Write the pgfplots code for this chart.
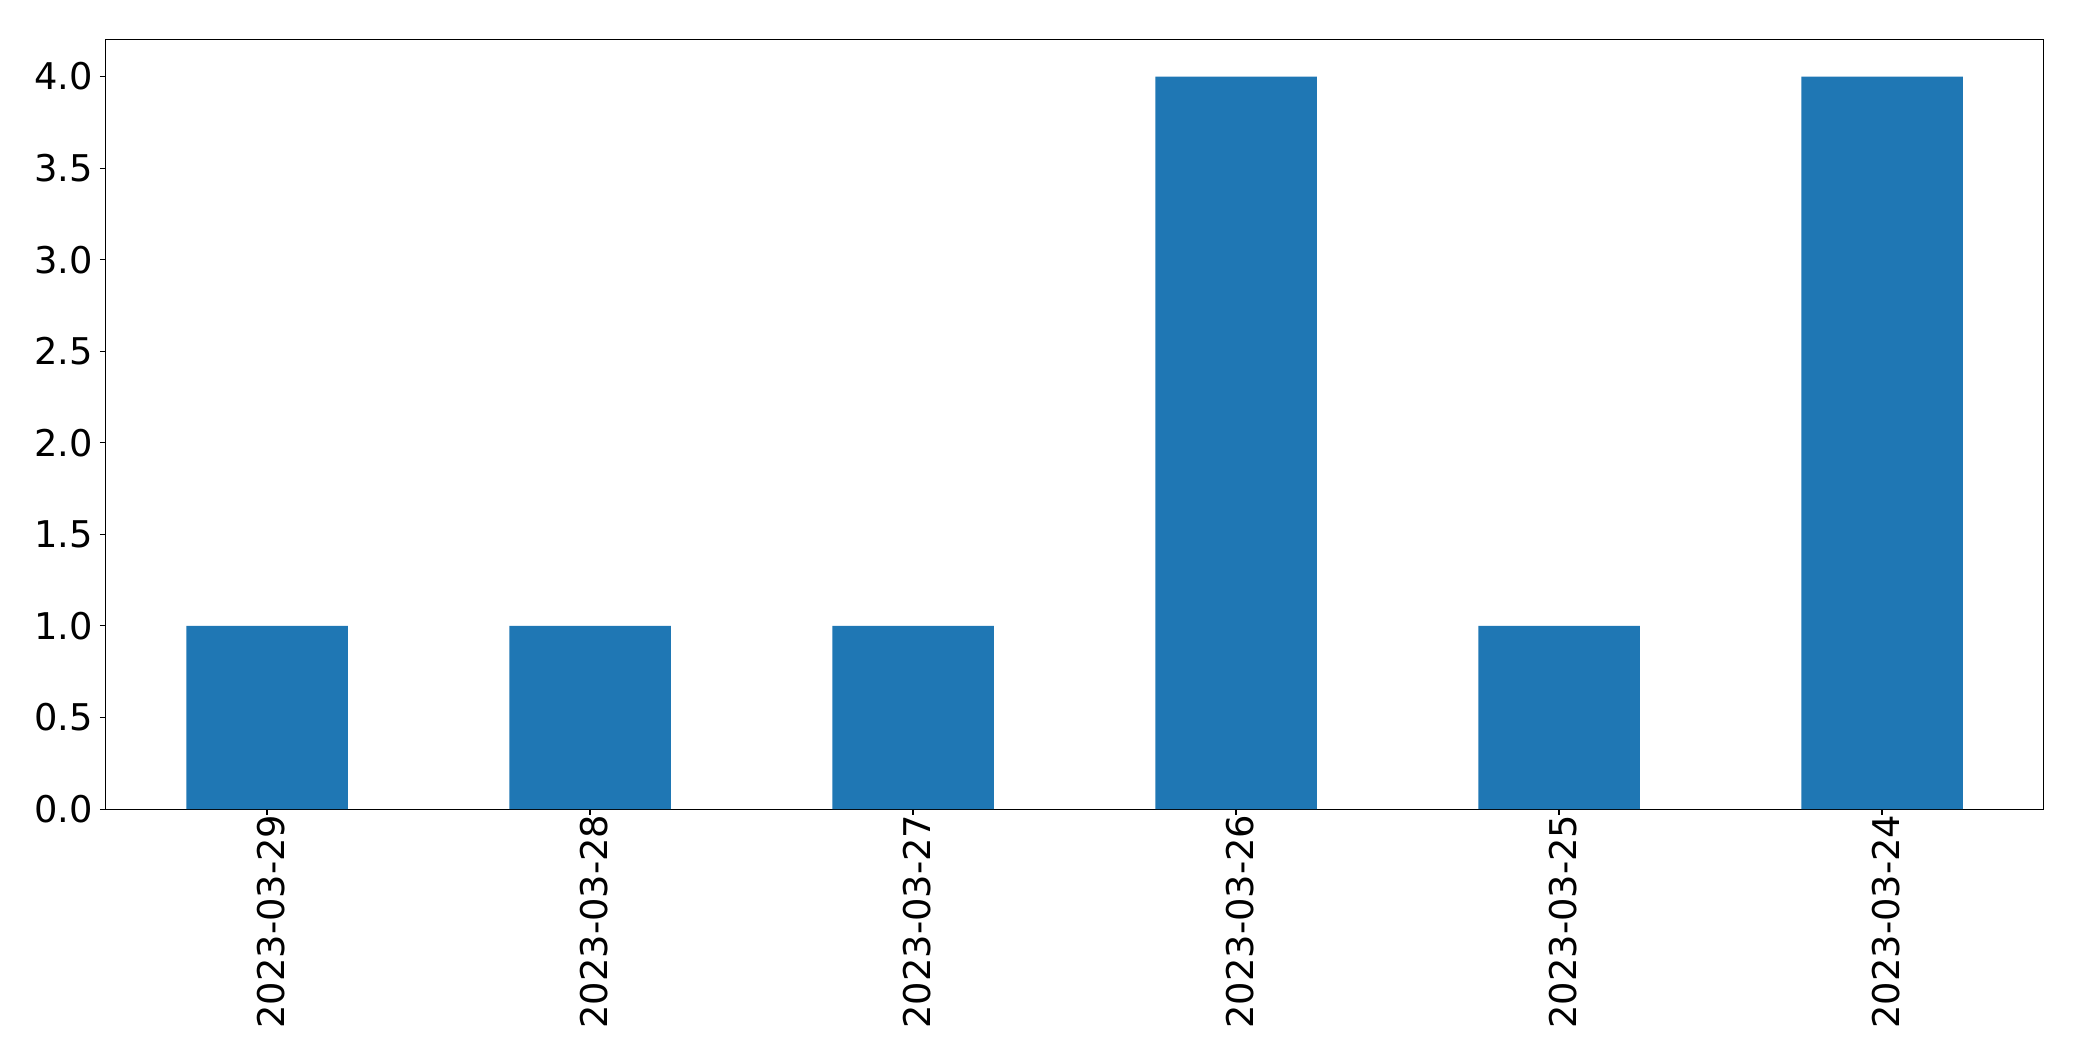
\documentclass[border=0pt]{standalone}
\usepackage{pgfplots}
\pgfplotsset{compat=1.18}
\usepackage{fontspec}
\setmainfont{DejaVu Sans}
\definecolor{mplblue}{HTML}{1F77B4}
\begin{document}
\begin{tikzpicture}
\path[use as bounding box] (0,0) rectangle (1499.04pt,763.92pt);
\begin{axis}[
  at={(75.96pt,181.4pt)}, anchor=south west,
  scale only axis, width=1395.4pt, height=554.2pt,
  xmin=-0.5, xmax=5.5, ymin=0, ymax=4.2032,
  xtick={0,1,2,3,4,5},
  xticklabels={2023-03-29,2023-03-28,2023-03-27,2023-03-26,2023-03-25,2023-03-24},
  ytick={0,0.5,1,1.5,2,2.5,3,3.5,4},
  /pgf/number format/fixed,
  /pgf/number format/fixed zerofill,
  /pgf/number format/precision=1,
  /pgf/number format/assume math mode=true,
  xticklabel style={rotate=90, anchor=east, inner sep=0pt, outer sep=0pt, yshift=-3pt},
  tick label style={font=\fontsize{26.5}{31}\selectfont},
  yticklabel style={inner sep=0pt, xshift=-5pt},
  tick align=outside, tick pos=left,
  major tick length=4pt,
  every tick/.style={black, line width=0.8pt},
  axis line style={line width=0.8pt},
]
\addplot[ybar, bar width=0.5, fill=mplblue, draw=none] coordinates {
  (0,1) (1,1) (2,1) (3,4) (4,1) (5,4)
};
\end{axis}
\end{tikzpicture}
\end{document}
